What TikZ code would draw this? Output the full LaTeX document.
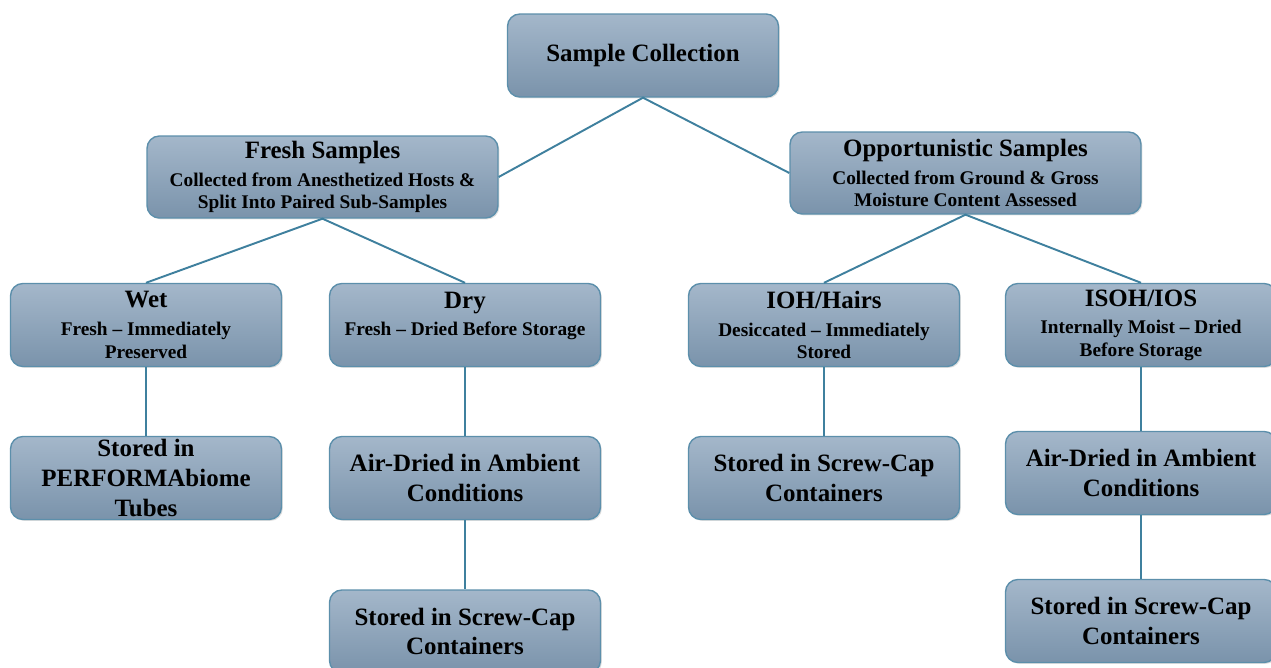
\documentclass[tikz,border=0pt]{standalone}
\usepackage{fontspec}
\setmainfont{Liberation Serif}
\usetikzlibrary{shadows}

\definecolor{boxtop}{HTML}{A4B7CA}
\definecolor{boxbot}{HTML}{7A93AB}
\definecolor{boxline}{HTML}{5C8FAB}
\definecolor{linkcol}{HTML}{3F809E}

\newcommand{\boxhead}[1]{{\fontsize{14.2}{17}\selectfont #1}}

\tikzset{
	stage/.style={draw=boxline, line width=0.8pt, rounded corners=7pt,
		top color=boxtop, bottom color=boxbot,
		minimum width=5.42cm, minimum height=1.66cm, inner sep=1pt,
		align=center, font=\bfseries\fontsize{14.2}{17}\selectfont,
		drop shadow={opacity=0.25, shadow xshift=0.8pt, shadow yshift=-0.8pt}},
	kind/.style={stage, font=\bfseries\fontsize{11}{12.8}\selectfont},
	wide/.style={kind, minimum width=7.02cm, minimum height=1.64cm},
	link/.style={draw=linkcol, line width=1.1pt}
}

\begin{document}
\begin{tikzpicture}[x=0.02cm, y=-0.02cm]
		\useasboundingbox (0,0) rectangle (1271,668);
		% top
		\node[stage] (coll) at (643,55.5) {Sample Collection};
		% sample kinds
		\node[wide] (fresh) at (322.5,177) {\boxhead{Fresh Samples}\\[3pt]
			Collected from Anesthetized Hosts \&\\
			Split Into Paired Sub-Samples};
		\node[wide] (opp) at (965.5,173) {\boxhead{Opportunistic Samples}\\[3pt]
			Collected from Ground \& Gross\\
			Moisture Content Assessed};
		% sub-samples
		\node[kind] (wet) at (146,325) {\boxhead{Wet}\\[3pt]
			Fresh -- Immediately\\Preserved};
		\node[kind] (dry) at (465,325) {\boxhead{Dry}\\[3pt]
			Fresh -- Dried Before Storage\\\mbox{}};
		\node[kind] (ioh) at (824,325) {\boxhead{IOH/Hairs}\\[3pt]
			Desiccated -- Immediately\\Stored};
		\node[kind] (isoh) at (1141,325) {\boxhead{ISOH/IOS}\\[3pt]
			Internally Moist -- Dried\\Before Storage};
		% storage
		\node[stage] (wetstore) at (146,478) {Stored in\\PERFORMAbiome\\Tubes};
		\node[stage] (dryair) at (465,478) {Air-Dried in Ambient\\Conditions};
		\node[stage] (drystore) at (465,631.5) {Stored in Screw-Cap\\Containers};
		\node[stage] (iohstore) at (824,478) {Stored in Screw-Cap\\Containers};
		\node[stage] (isohair) at (1141,473) {Air-Dried in Ambient\\Conditions};
		\node[stage] (isohstore) at (1141,621) {Stored in Screw-Cap\\Containers};
		% links
		\draw[link] (fresh.east) -- (coll.south) -- (opp.west);
		\draw[link] (wet.north) -- (fresh.south) -- (dry.north);
		\draw[link] (ioh.north) -- (opp.south) -- (isoh.north);
		\draw[link] (wet) -- (wetstore);
		\draw[link] (dry) -- (dryair);
		\draw[link] (dryair) -- (drystore);
		\draw[link] (ioh) -- (iohstore);
		\draw[link] (isoh) -- (isohair);
		\draw[link] (isohair) -- (isohstore);
	\end{tikzpicture}
\end{document}
